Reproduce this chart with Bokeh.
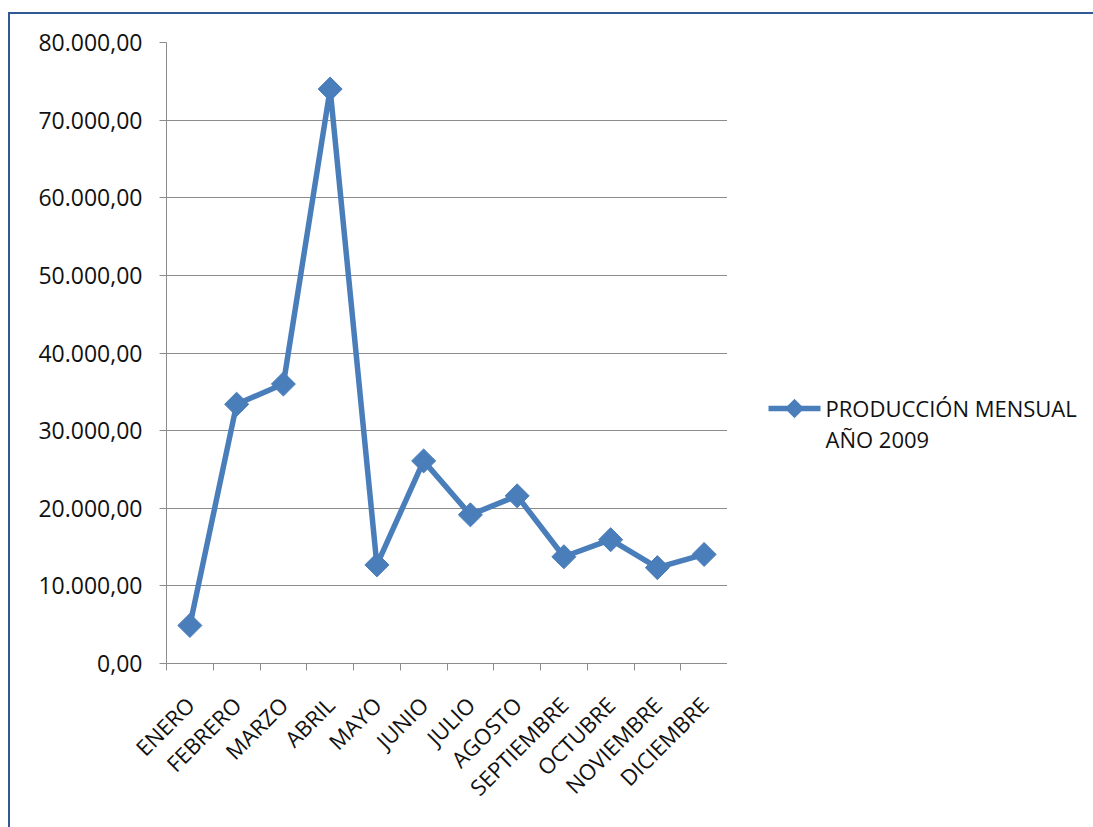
import numpy as np
from bokeh.plotting import figure
from bokeh.layouts import row
from bokeh.models import FixedTicker, Range1d
from bokeh.core.properties import value
from bokeh.embed import file_html
from bokeh.resources import INLINE

months = ["ENERO", "FEBRERO", "MARZO", "ABRIL", "MAYO", "JUNIO", "JULIO",
          "AGOSTO", "SEPTIEMBRE", "OCTUBRE", "NOVIEMBRE", "DICIEMBRE"]
production = [4900, 33400, 36000, 74000, 12700, 26100, 19150, 21600,
              13750, 15950, 12350, 14050]
y_ticks = [0, 10000, 20000, 30000, 40000, 50000, 60000, 70000, 80000]
y_tick_labels = ["0,00", "10.000,00", "20.000,00", "30.000,00", "40.000,00",
                 "50.000,00", "60.000,00", "70.000,00", "80.000,00"]
legend_lines = ["PRODUCCIÓN MENSUAL", "AÑO 2009"]

FONT = "Open Sans"
BLUE = "#4A7EBB"
GRID = "#8C8C8C"
TEXT = "#111111"

xs = list(range(1, len(months) + 1))

# ---------------- main chart ----------------
p = figure(width=717, height=813, output_backend="svg", toolbar_location=None,
           x_range=Range1d(0.5, len(months) + 0.5), y_range=Range1d(0, 80000),
           min_border_left=156, min_border_right=0, min_border_top=28,
           min_border_bottom=164)
p.outline_line_color = None
p.background_fill_color = "white"
p.border_fill_color = "white"

p.xgrid.visible = False
p.ygrid.ticker = FixedTicker(ticks=y_ticks)
p.ygrid.grid_line_color = GRID
p.ygrid.grid_line_width = 1

p.yaxis.ticker = FixedTicker(ticks=y_ticks)
p.yaxis.major_label_overrides = {t: l for t, l in zip(y_ticks, y_tick_labels)}
p.yaxis.axis_line_color = GRID
p.yaxis.major_tick_line_color = GRID
p.yaxis.major_tick_in = 0
p.yaxis.major_tick_out = 7
p.yaxis.minor_tick_line_color = None
p.yaxis.major_label_standoff = 17
p.yaxis.major_label_text_font = FONT
p.yaxis.major_label_text_font_size = "23px"
p.yaxis.major_label_text_color = TEXT

# labels at category centres, tick marks between categories
p.xaxis.ticker = FixedTicker(ticks=xs, minor_ticks=[x - 0.5 for x in xs] + [len(xs) + 0.5])
p.xaxis.major_label_overrides = {x: m for x, m in zip(xs, months)}
p.xaxis.axis_line_color = GRID
p.xaxis.major_tick_line_color = None
p.xaxis.major_tick_in = 0
p.xaxis.major_tick_out = 0
p.xaxis.minor_tick_line_color = GRID
p.xaxis.minor_tick_in = 0
p.xaxis.minor_tick_out = 7
p.xaxis.major_label_orientation = np.pi / 4
p.xaxis.major_label_standoff = 30
p.xaxis.major_label_text_font = FONT
p.xaxis.major_label_text_font_size = "22px"
p.xaxis.major_label_text_color = TEXT

p.line(xs, production, line_color=BLUE, line_width=5.5, line_join="round")
p.scatter(xs, production, marker="square", angle=np.pi / 4, size=17,
          fill_color=BLUE, line_color=BLUE)

# ---------------- legend panel (frame aligned with the chart frame) ----------------
lg = figure(width=366, height=813, output_backend="svg", toolbar_location=None,
            x_range=Range1d(727, 1093), y_range=Range1d(663, 42),
            x_axis_type=None, y_axis_type=None,
            min_border_left=0, min_border_right=0,
            min_border_top=28, min_border_bottom=164)
lg.grid.visible = False
lg.outline_line_color = None
lg.background_fill_color = "white"
lg.border_fill_color = "white"

lg.line([768, 820], [408, 408], line_color=BLUE, line_width=5.5)
lg.scatter([794], [408], marker="square", angle=np.pi / 4, size=13,
           fill_color=BLUE, line_color=BLUE)
lg.text(x=[825, 825], y=[407, 438], text=legend_lines,
        text_font=value(FONT), text_font_size="22px", text_color=TEXT,
        text_baseline="middle", text_align="left")

layout = row(p, lg, spacing=0)
layout.styles = {"margin-left": "8px", "margin-top": "12px",
                 "border-left": "2px solid #2F5A96",
                 "border-top": "2px solid #2F5A96"}

open("out.html", "w").write(file_html(layout, INLINE))
